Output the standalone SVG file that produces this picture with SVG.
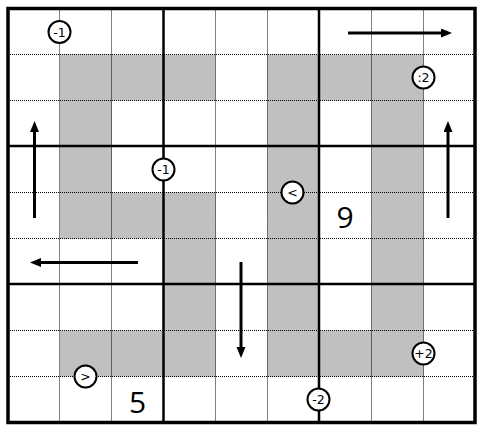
<svg xmlns="http://www.w3.org/2000/svg" width="483" height="432" viewBox="0 0 483 432">
<style>
.shade{fill:#c0c0c0}
.dot{stroke:#000;stroke-width:1;stroke-dasharray:1 1;fill:none}
.thick{stroke:#000;stroke-width:2.5;fill:none}
.outer{stroke:#000;stroke-width:3.5;fill:none}
.arr{stroke:#000;stroke-width:3;fill:none;marker-end:url(#ah)}
.clue circle{fill:#fff;stroke:#000;stroke-width:2}
.clue text{font-family:"DejaVu Sans",Verdana,sans-serif;font-size:12.5px;text-anchor:middle;dominant-baseline:central;fill:#000}
.big{font-family:"Open Sans","Liberation Sans",sans-serif;font-size:30px;text-anchor:middle;dominant-baseline:central;fill:#000}
</style>
<defs>
<marker id="ah" markerUnits="userSpaceOnUse" markerWidth="12" markerHeight="10" refX="3" refY="4.5" orient="auto">
<path d="M0,0 L11,4.5 L0,9 z" fill="#000"/>
</marker>
</defs>
<rect x="0" y="0" width="483" height="432" fill="#fff"/>
<g id="shading">
<rect class="shade" x="60" y="54.5" width="155.5" height="46"/>
<rect class="shade" x="267.5" y="54.5" width="156" height="46"/>
<rect class="shade" x="60" y="54.5" width="52" height="184"/>
<rect class="shade" x="60" y="192.5" width="155.5" height="46"/>
<rect class="shade" x="164" y="192.5" width="51.5" height="184"/>
<rect class="shade" x="60" y="330.5" width="155.5" height="46"/>
<rect class="shade" x="267.5" y="54.5" width="52" height="322"/>
<rect class="shade" x="371.5" y="54.5" width="52" height="322"/>
<rect class="shade" x="267.5" y="330.5" width="156" height="46"/>
</g>
<g id="grid">
<path class="dot" d="M59.5,8.5V422.5 M111.5,8.5V422.5 M215.5,8.5V422.5 M267.5,8.5V422.5 M371.5,8.5V422.5 M423.5,8.5V422.5 M8,54.5H475 M8,100.5H475 M8,192.5H475 M8,238.5H475 M8,330.5H475 M8,376.5H475"/>
<path class="thick" d="M163.5,8.5V422.5 M319,8.5V422.5 M8,146H475 M8,284H475"/>
<rect class="outer" x="8" y="8.5" width="467" height="414"/>
</g>
<g id="connectors">
<line class="arr" x1="348" y1="33" x2="444" y2="33"/>
<line class="arr" x1="34.5" y1="218" x2="34.5" y2="129"/>
<line class="arr" x1="448" y1="218" x2="448" y2="129"/>
<line class="arr" x1="138" y1="262.5" x2="38" y2="262.5"/>
<line class="arr" x1="241" y1="262" x2="241" y2="350"/>
</g>
<g id="clue-m1a" class="clue"><circle cx="59.5" cy="32" r="11"/><text x="59.5" y="32">-1</text></g>
<g id="clue-c2" class="clue"><circle cx="423.5" cy="77.5" r="11"/><text x="423.5" y="77.5">:2</text></g>
<g id="clue-m1b" class="clue"><circle cx="163.5" cy="169.5" r="11"/><text x="163.5" y="169.5">-1</text></g>
<g id="clue-lt" class="clue"><circle cx="292.5" cy="192.5" r="11"/><text x="292.5" y="192.5">&lt;</text></g>
<g id="clue-gt" class="clue"><circle cx="85.5" cy="376.5" r="11"/><text x="85.5" y="376.5">&gt;</text></g>
<g id="clue-p2" class="clue"><circle cx="423.5" cy="353.5" r="11"/><text x="423.5" y="353.5">+2</text></g>
<g id="clue-m2" class="clue"><circle cx="318.5" cy="399.5" r="11"/><text x="318.5" y="399.5">-2</text></g>
<g id="digits">
<text class="big" x="345" y="216">9</text>
<text class="big" x="137.5" y="401">5</text>
</g>
</svg>
